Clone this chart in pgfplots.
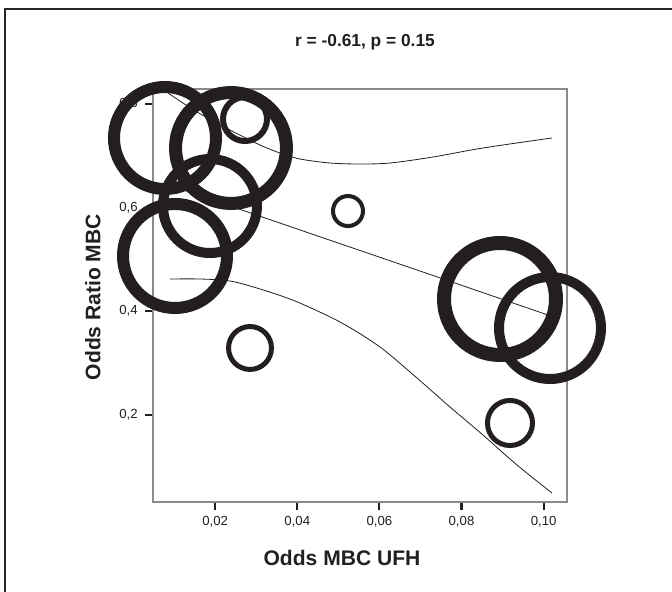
\documentclass[border=0pt]{standalone}
\usepackage{pgfplots}
\pgfplotsset{compat=1.18}
\usepackage{fontspec}
\setmainfont{Liberation Sans}
\definecolor{ringc}{HTML}{231F20}
\definecolor{boxc}{HTML}{8A8A8A}
\begin{document}
\begin{tikzpicture}
\useasboundingbox (0,0) rectangle (504pt,444pt);
\draw[line width=1.5pt, color=black!85] (3.75pt,-1pt) -- (3.75pt,437.25pt) -- (505pt,437.25pt);
\begin{axis}[
  at={(114.75pt,67.5pt)}, anchor=south west,
  scale only axis, width=310.5pt, height=309.75pt,
  xmin=0.00485, xmax=0.1057, ymin=0.0317, ymax=0.829,
  clip=false,
  axis line style={color=boxc, line width=0.8pt},
  xtick={0.02,0.04,0.06,0.08,0.10},
  ytick={0.2,0.4,0.6,0.8},
  xtick pos=left, ytick pos=left,
  tick align=outside,
  major tick length=6pt,
  tick style={line width=1.6pt, color=ringc},
  /pgf/number format/assume math mode=true,
  /pgf/number format/use comma,
  xticklabel style={/pgf/number format/fixed, /pgf/number format/fixed zerofill, /pgf/number format/precision=2, font=\fontsize{9.9}{12}\selectfont, color=ringc, yshift=-1pt},
  yticklabel style={/pgf/number format/fixed, /pgf/number format/fixed zerofill, /pgf/number format/precision=1, font=\fontsize{9.9}{12}\selectfont, color=ringc, xshift=-2pt},
  title={r = -0.61, p = 0.15},
  title style={at={(axis description cs:0.512,1.094)}, anchor=center, font=\bfseries\fontsize{13}{15}\selectfont, color=ringc},
  xlabel={Odds MBC UFH},
  xlabel style={at={(axis description cs:0.4565,-0.1356)}, anchor=center, font=\bfseries\fontsize{15.8}{18}\selectfont, color=ringc},
  ylabel={Odds Ratio MBC},
  ylabel style={at={(axis description cs:-0.145,0.496)}, anchor=center, font=\bfseries\fontsize{15.8}{18}\selectfont, color=ringc},
]
% regression line
\addplot[ringc, line width=0.6pt] coordinates {(0.00899,0.6429) (0.0400,0.5587) (0.0700,0.4773) (0.10204,0.3900)};
% upper confidence bound
\addplot[ringc, line width=0.6pt, smooth] coordinates {
(0.00850,0.8212) (0.01557,0.7846) (0.02361,0.7498) (0.03091,0.7209) (0.03578,0.7054) (0.04066,0.6938) (0.04797,0.6861) (0.05527,0.6842) (0.06258,0.6861) (0.07306,0.6977) (0.08524,0.7151) (0.10204,0.7344)};
% lower confidence bound
\addplot[ringc, line width=0.6pt, smooth] coordinates {
(0.00899,0.4622) (0.01630,0.4622) (0.02361,0.4583) (0.03091,0.4429) (0.03944,0.4197) (0.05040,0.3792) (0.06015,0.3309) (0.06916,0.2710) (0.07720,0.2151) (0.08524,0.1610) (0.09352,0.1031) (0.10204,0.0490)};
% bubbles
\addplot[only marks, mark=o, mark size=38.25pt, mark options={line width=9pt, draw=ringc}] coordinates {(0.00777,0.7344)};
\addplot[only marks, mark=o, mark size=41.6pt, mark options={line width=9.75pt, draw=ringc}] coordinates {(0.02385,0.7151)};
\addplot[only marks, mark=o, mark size=16.5pt, mark options={line width=4.5pt, draw=ringc}] coordinates {(0.02726,0.7710)};
\addplot[only marks, mark=o, mark size=35.25pt, mark options={line width=7.5pt, draw=ringc}] coordinates {(0.01873,0.6031)};
\addplot[only marks, mark=o, mark size=39pt, mark options={line width=9pt, draw=ringc}] coordinates {(0.01021,0.5066)};
\addplot[only marks, mark=o, mark size=11.25pt, mark options={line width=3pt, draw=ringc}] coordinates {(0.05235,0.5934)};
\addplot[only marks, mark=o, mark size=16.1pt, mark options={line width=3.75pt, draw=ringc}] coordinates {(0.02848,0.3290)};
\addplot[only marks, mark=o, mark size=16.9pt, mark options={line width=3.75pt, draw=ringc}] coordinates {(0.09181,0.1842)};
\addplot[only marks, mark=o, mark size=42pt, mark options={line width=10.5pt, draw=ringc}] coordinates {(0.08938,0.4236)};
\addplot[only marks, mark=o, mark size=38.25pt, mark options={line width=7.5pt, draw=ringc}] coordinates {(0.10156,0.3676)};
\end{axis}
\end{tikzpicture}
\end{document}
